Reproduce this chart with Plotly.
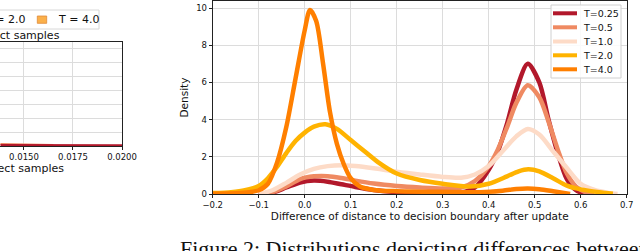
import plotly.graph_objects as go

W, H = 640, 251

# ---------------- data ----------------
labels = ["T=0.25", "T=0.5", "T=1.0", "T=2.0", "T=4.0"]
colors = ["#b2182b", "#ef8a62", "#fddbc7", "#ffb300", "#ff7f00"]

x_t025 = [-0.10, -0.07, -0.04, -0.01, 0.02, 0.05, 0.08, 0.11, 0.15, 0.20, 0.25, 0.30, 0.34, 0.37,
          0.40, 0.42, 0.44, 0.46, 0.485, 0.51, 0.53, 0.55, 0.57, 0.59, 0.61]
y_t025 = [0.0, 0.08, 0.35, 0.62, 0.72, 0.66, 0.52, 0.38, 0.22, 0.10, 0.06, 0.05, 0.08, 0.35,
          1.3, 2.3, 3.8, 5.6, 7.0, 6.0, 4.0, 2.2, 0.8, 0.2, 0.0]

x_t05 = [-0.10, -0.07, -0.04, -0.01, 0.02, 0.05, 0.08, 0.11, 0.15, 0.20, 0.25, 0.30, 0.34, 0.37,
         0.40, 0.42, 0.44, 0.46, 0.485, 0.51, 0.53, 0.55, 0.57, 0.59, 0.61, 0.63]
y_t05 = [0.0, 0.10, 0.40, 0.80, 0.95, 0.96, 0.86, 0.72, 0.56, 0.43, 0.35, 0.30, 0.35, 0.70,
         1.5, 2.4, 3.6, 4.9, 5.85, 5.2, 3.9, 2.4, 1.1, 0.4, 0.1, 0.0]

x_t1 = [-0.10, -0.07, -0.04, -0.01, 0.02, 0.05, 0.08, 0.11, 0.15, 0.20, 0.25, 0.30, 0.34, 0.37,
        0.40, 0.43, 0.46, 0.485, 0.51, 0.54, 0.57, 0.60, 0.63, 0.66, 0.68]
y_t1 = [0.0, 0.20, 0.60, 1.05, 1.35, 1.50, 1.55, 1.50, 1.38, 1.20, 1.05, 0.92, 0.88, 1.05,
        1.5, 2.3, 3.1, 3.5, 3.2, 2.3, 1.4, 0.55, 0.22, 0.06, 0.0]

x_t2 = [-0.20, -0.16, -0.13, -0.10, -0.08, -0.06, -0.04, -0.02, 0.00, 0.02, 0.045, 0.07, 0.10,
        0.13, 0.16, 0.20, 0.25, 0.30, 0.36, 0.40, 0.44, 0.465, 0.486, 0.51, 0.54, 0.57, 0.60,
        0.64, 0.67]
y_t2 = [0.05, 0.10, 0.20, 0.43, 0.85, 1.47, 2.2, 2.85, 3.3, 3.62, 3.75, 3.5, 2.9,
        2.3, 1.7, 1.1, 0.75, 0.55, 0.40, 0.55, 0.95, 1.22, 1.33, 1.22, 0.85, 0.45, 0.25,
        0.10, 0.02]

x_t4 = [-0.20, -0.15, -0.12, -0.10, -0.08, -0.06, -0.04, -0.02, 0.00, 0.0115, 0.025, 0.04, 0.055,
        0.07, 0.085, 0.10, 0.12, 0.15, 0.20, 0.30, 0.38, 0.43, 0.46, 0.485, 0.51, 0.54, 0.577]
y_t4 = [0.02, 0.04, 0.10, 0.20, 0.55, 1.7, 3.6, 6.2, 8.8, 9.9, 9.3, 7.0, 4.4,
        2.7, 1.6, 0.85, 0.40, 0.22, 0.15, 0.12, 0.10, 0.18, 0.27, 0.30, 0.26, 0.15, 0.0]

series_x = [x_t025, x_t05, x_t1, x_t2, x_t4]
series_y = [y_t025, y_t05, y_t1, y_t2, y_t4]

x_ticks = [-0.2, -0.1, 0.0, 0.1, 0.2, 0.3, 0.4, 0.5, 0.6, 0.7]
y_ticks = [0, 2, 4, 6, 8, 10]

# partially visible neighbouring panel (left)
left_x = [0.0138, 0.0150, 0.0165, 0.0180, 0.0200]
left_y_red = [0.07, 0.06, 0.06, 0.06, 0.06]
left_x_light = [0.0138, 0.0146, 0.0156, 0.0165]
left_y_light = [0.14, 0.11, 0.09, 0.07]
left_x_ticks = [0.0125, 0.0150, 0.0175, 0.0200]

caption = "Figure 2: Distributions depicting differences between"


def px(x):
    return x / W


def py(y):
    return 1 - y / H


fig = go.Figure()

# main panel curves
for xs, ys, c, name in zip(series_x, series_y, colors, labels):
    fig.add_trace(go.Scatter(x=xs, y=ys, mode="lines", name=name,
                             line=dict(color=c, width=4.5, shape="spline", smoothing=0.8),
                             xaxis="x", yaxis="y", showlegend=False))

# left panel curves
fig.add_trace(go.Scatter(x=left_x_light, y=left_y_light, mode="lines",
                         line=dict(color="#ef8a62", width=2), xaxis="x2", yaxis="y2",
                         showlegend=False))
fig.add_trace(go.Scatter(x=left_x, y=left_y_red, mode="lines",
                         line=dict(color="#b2182b", width=2), xaxis="x2", yaxis="y2",
                         showlegend=False))

axis_font = dict(family="DejaVu Sans", size=8.5, color="#111")
grid_c = "#dcdcdc"
spine_c = "#222"

fig.update_layout(
    width=W, height=H,
    margin=dict(l=0, r=0, t=0, b=0),
    paper_bgcolor="white", plot_bgcolor="white",
    xaxis=dict(domain=[px(212.7), px(626.7)], range=[-0.2, 0.7], tickvals=x_ticks,
               tickformat=".1f", showgrid=True, gridcolor=grid_c, gridwidth=1,
               showline=True, mirror=True, linecolor=spine_c, linewidth=1,
               ticks="outside", ticklen=3, tickcolor=spine_c, tickfont=axis_font,
               zeroline=False, anchor="y", automargin=False,
               title=dict(text="Difference of distance to decision boundary after update",
                          font=dict(family="DejaVu Sans", size=10.5, color="#111"), standoff=2)),
    yaxis=dict(domain=[py(194), py(1)], range=[0, 10.38], tickvals=y_ticks,
               showgrid=True, gridcolor=grid_c, gridwidth=1,
               showline=True, mirror=True, linecolor=spine_c, linewidth=1,
               ticks="outside", ticklen=3, tickcolor=spine_c, tickfont=axis_font,
               zeroline=False, anchor="x", automargin=False,
               title=dict(text="Density", font=dict(family="DejaVu Sans", size=10.5, color="#111"),
                          standoff=5)),
    xaxis2=dict(domain=[0, px(122)], range=[0.013776, 0.0200001], tickvals=left_x_ticks,
                tickformat=".4f", showgrid=True, gridcolor=grid_c,
                showline=True, mirror=True, linecolor=spine_c, linewidth=1,
                ticks="outside", ticklen=3, tickcolor=spine_c, tickfont=axis_font,
                zeroline=False, anchor="y2", automargin=False),
    yaxis2=dict(domain=[py(146), py(42)], range=[0, 7.43], dtick=1, tick0=0,
                showgrid=True, gridcolor=grid_c, showticklabels=False, ticks="",
                side="right", showline=True, linecolor=spine_c, linewidth=1,
                zeroline=False, anchor="x2", automargin=False),
    xaxis3=dict(domain=[0, px(122)], range=[0.013776, 0.0200001], tickvals=left_x_ticks,
                showgrid=True, gridcolor=grid_c, showticklabels=False, ticks="",
                side="top", showline=True, linecolor=spine_c, linewidth=1,
                zeroline=False, anchor="y3", automargin=False),
    yaxis3=dict(domain=[0, py(176)], range=[0.364, 3.773], dtick=1, tick0=0,
                showgrid=True, gridcolor=grid_c, showticklabels=False, ticks="",
                side="right", showline=True, linecolor=spine_c, linewidth=1,
                zeroline=False, anchor="x3", automargin=False),
)

shapes = []
annotations = []

# main legend (drawn manually)
shapes.append(dict(type="rect", xref="paper", yref="paper",
                   x0=px(551), x1=px(621), y0=py(78), y1=py(5),
                   line=dict(color="#d0d0d0", width=1), fillcolor="rgba(255,255,255,0.85)",
                   layer="above"))
row_y = [13.3, 27.3, 41.5, 55.3, 69.3]
for ry, c, name in zip(row_y, colors, labels):
    shapes.append(dict(type="line", xref="paper", yref="paper",
                       x0=px(553), x1=px(577), y0=py(ry), y1=py(ry),
                       line=dict(color=c, width=4), layer="above"))
    annotations.append(dict(xref="paper", yref="paper", x=px(581), y=py(ry),
                            xanchor="left", yanchor="middle", showarrow=False, text=name,
                            font=dict(family="DejaVu Sans", size=9.5, color="#111")))

# partial legend of neighbouring figure (top-left)
shapes.append(dict(type="rect", xref="paper", yref="paper",
                   x0=px(-150), x1=px(99), y0=py(29), y1=py(10),
                   line=dict(color="#d8d8d8", width=1), fillcolor="white", layer="above"))
shapes.append(dict(type="rect", xref="paper", yref="paper",
                   x0=px(37.3), x1=px(46.7), y0=py(23.3), y1=py(16),
                   line=dict(color="#e08a3a", width=0.8), fillcolor="#fbb04a", layer="above"))
annotations.append(dict(xref="paper", yref="paper", x=px(26.5), y=py(19.5), xanchor="right",
                        yanchor="middle", showarrow=False, text="T = 2.0",
                        font=dict(family="DejaVu Sans", size=11, color="#111")))
annotations.append(dict(xref="paper", yref="paper", x=px(55.5), y=py(19.5), xanchor="left",
                        yanchor="middle", showarrow=False, text="T = 4.0",
                        font=dict(family="DejaVu Sans", size=11, color="#111")))

# partial panel titles
annotations.append(dict(xref="paper", yref="paper", x=px(61.5), y=py(36), xanchor="right",
                        yanchor="middle", showarrow=False, text="Correct samples",
                        font=dict(family="DejaVu Sans", size=11, color="#111")))
annotations.append(dict(xref="paper", yref="paper", x=px(66), y=py(168), xanchor="right",
                        yanchor="middle", showarrow=False, text="Incorrect samples",
                        font=dict(family="DejaVu Sans", size=11, color="#111")))

# caption (cut off at bottom)
annotations.append(dict(xref="paper", yref="paper", x=px(178), y=py(248), xanchor="left",
                        yanchor="middle", showarrow=False, text=caption,
                        font=dict(family="Liberation Serif", size=22, color="#111")))

fig.update_layout(shapes=shapes, annotations=annotations)

fig.write_html("out.html", config={"displayModeBar": False},
               post_script="document.body.style.margin='0';document.body.style.overflow='hidden';")
